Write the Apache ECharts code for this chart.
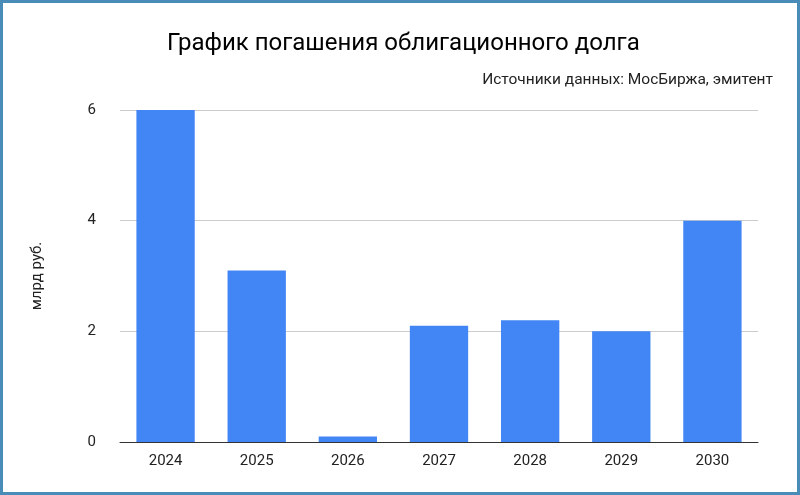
<!DOCTYPE html>
<html><head><meta charset="utf-8">
<script src="https://cdn.jsdelivr.net/npm/echarts@6/dist/echarts.min.js"></script>
<style>html,body{margin:0;padding:0;}#c{width:794px;height:489px;border:3px solid #4a8cb8;background:#fff;}</style>
</head><body><div id="c"></div>
<script>
const years = ['2024','2025','2026','2027','2028','2029','2030'];
const values = [6.0, 3.1, 0.1, 2.1, 2.2, 2.0, 4.0];
const yTicks = [0, 2, 4, 6];
const chart = echarts.init(document.getElementById('c'));
chart.setOption({
  animation:false,
  title:[{text:'График погашения облигационного долга',left:159,top:24,textStyle:{fontFamily:'Roboto',fontSize:24,fontWeight:'normal',color:'#000'}},
         {text:'Источники данных: МосБиржа, эмитент',right:19,top:64,textStyle:{fontFamily:'Roboto',fontSize:15.5,fontWeight:'normal',color:'#222'}}],
  grid:{left:117,right:39,top:107,bottom:50},
  xAxis:{type:'category',data:years,axisTick:{show:false},axisLine:{lineStyle:{color:'#333'}},
    axisLabel:{fontFamily:'Roboto',fontSize:15,color:'#222',margin:12}},
  yAxis:{type:'value',min:yTicks[0],max:yTicks[yTicks.length-1],interval:2,name:'млрд руб.',nameLocation:'middle',nameGap:75,
    nameTextStyle:{fontFamily:'Roboto',fontSize:15,color:'#222'},
    axisLabel:{fontFamily:'Roboto',fontSize:15,color:'#222',margin:24},splitLine:{lineStyle:{color:'#ccc'}}},
  series:[{type:'bar',data:values,barWidth:'64%',itemStyle:{color:'#4285f4'}}]
});
</script></body></html>
